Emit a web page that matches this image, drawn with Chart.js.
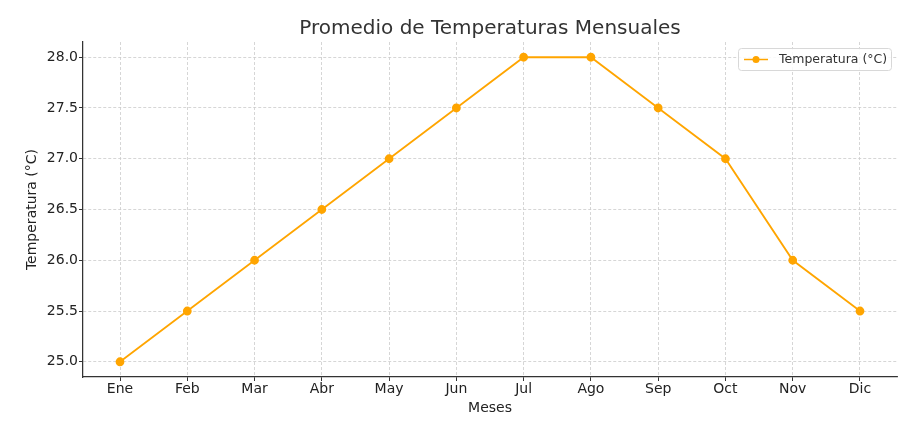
<!DOCTYPE html>
<html lang="es">
<head>
    <meta charset="UTF-8">
    <title>Promedio de Temperaturas Mensuales</title>
    <script src="https://cdn.jsdelivr.net/npm/chart.js"></script>
    <style>
        html, body { margin: 0; padding: 0; background: #fff; }
        #wrap { width: 911px; height: 424px; position: relative; }
    </style>
</head>
<body>
<div id="wrap"><canvas id="chart"></canvas></div>
<script>
    // data
    const meses = ['Ene', 'Feb', 'Mar', 'Abr', 'May', 'Jun', 'Jul', 'Ago', 'Sep', 'Oct', 'Nov', 'Dic'];
    const temperaturas = [25.0, 25.5, 26.0, 26.5, 27.0, 27.5, 28.0, 28.0, 27.5, 27.0, 26.0, 25.5];
    const yTicks = [25.0, 25.5, 26.0, 26.5, 27.0, 27.5, 28.0];

    const FONT = '"DejaVu Sans", sans-serif';
    const ORANGE = '#FFA500';

    // title + legend drawn by hand, matplotlib style
    const extras = {
        id: 'extras',
        afterDraw(chart) {
            const ctx = chart.ctx;
            const area = chart.chartArea;
            ctx.save();
            ctx.fillStyle = '#333';
            ctx.font = '20px ' + FONT;
            ctx.textAlign = 'center';
            ctx.textBaseline = 'middle';
            ctx.fillText('Promedio de Temperaturas Mensuales', (area.left + area.right) / 2, 29);

            // legend box
            const bx = 738, by = 48, bw = 153, bh = 22;
            ctx.fillStyle = 'rgba(255,255,255,0.85)';
            ctx.strokeStyle = '#d8d8d8';
            ctx.lineWidth = 1;
            ctx.beginPath();
            ctx.roundRect(bx + 0.5, by + 0.5, bw, bh, 3);
            ctx.fill();
            ctx.stroke();
            const ly = by + bh / 2 + 0.5;
            ctx.strokeStyle = ORANGE;
            ctx.lineWidth = 1.5;
            ctx.beginPath();
            ctx.moveTo(744, ly);
            ctx.lineTo(768, ly);
            ctx.stroke();
            ctx.fillStyle = ORANGE;
            ctx.beginPath();
            ctx.arc(756, ly, 3.5, 0, Math.PI * 2);
            ctx.fill();
            ctx.fillStyle = '#333';
            ctx.font = '12.5px ' + FONT;
            ctx.textAlign = 'left';
            ctx.fillText('Temperatura (°C)', 779, ly);
            ctx.restore();
        }
    };

    new Chart(document.getElementById('chart'), {
        type: 'line',
        data: {
            datasets: [{
                label: 'Temperatura (°C)',
                data: temperaturas.map((t, i) => ({ x: i, y: t })),
                borderColor: ORANGE,
                backgroundColor: ORANGE,
                borderWidth: 1.8,
                pointRadius: 3.5,
                pointHoverRadius: 3.5,
                tension: 0
            }]
        },
        options: {
            responsive: true,
            maintainAspectRatio: false,
            animation: false,
            layout: { padding: { top: 42, right: 14, left: 0, bottom: 0 } },
            plugins: {
                legend: { display: false },
                title: { display: false },
                tooltip: { enabled: false }
            },
            scales: {
                x: {
                    type: 'linear',
                    min: -0.55,
                    max: 11.55,
                    afterBuildTicks: s => { s.ticks = meses.map((m, i) => ({ value: i })); },
                    afterFit: s => { s.height = 47; },
                    ticks: {
                        callback: v => meses[v],
                        color: '#222',
                        font: { family: FONT, size: 14 },
                        padding: 0,
                        maxRotation: 0,
                        autoSkip: false
                    },
                    grid: {
                        color: '#cccccc',
                        lineWidth: 0.8,
                        tickLength: 4,
                        tickColor: '#333',
                        tickWidth: 1,
                        tickBorderDash: []
                    },
                    border: { display: true, color: '#333', width: 1.25, dash: [3, 2] },
                    title: {
                        display: true,
                        text: 'Meses',
                        color: '#222',
                        font: { family: FONT, size: 14 },
                        padding: { top: 0, bottom: 7 }
                    }
                },
                y: {
                    min: 24.85,
                    max: 28.15,
                    afterBuildTicks: s => { s.ticks = yTicks.map(v => ({ value: v })); },
                    afterFit: s => { s.width = 83; },
                    ticks: {
                        callback: v => v.toFixed(1),
                        color: '#222',
                        font: { family: FONT, size: 14 },
                        padding: 1
                    },
                    grid: {
                        color: '#cccccc',
                        lineWidth: 0.8,
                        tickLength: 4,
                        tickColor: '#333',
                        tickWidth: 1,
                        tickBorderDash: []
                    },
                    border: { display: true, color: '#333', width: 1.25, dash: [3, 2] },
                    title: {
                        display: true,
                        text: 'Temperatura (°C)',
                        color: '#222',
                        font: { family: FONT, size: 14 },
                        padding: { top: 24, bottom: 0 }
                    }
                }
            }
        },
        plugins: [extras]
    });
</script>
</body>
</html>
